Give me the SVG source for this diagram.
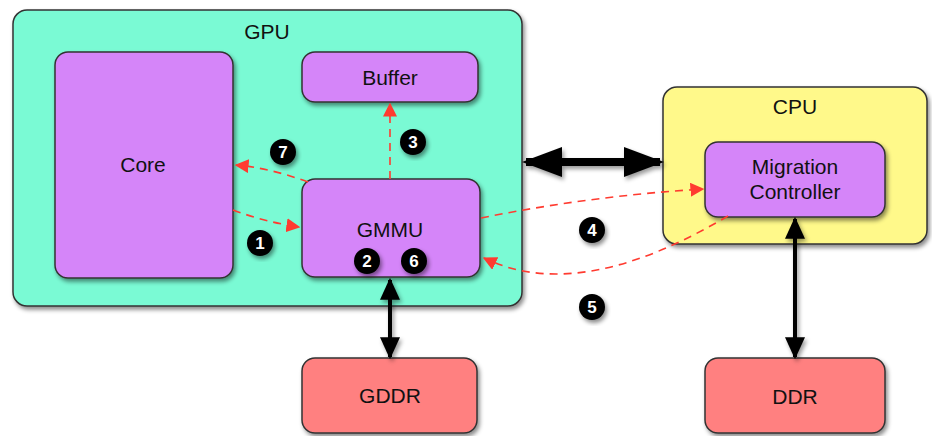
<svg xmlns="http://www.w3.org/2000/svg" width="932" height="436" viewBox="0 0 932 436">
<defs>
<filter id="sh" x="-10%" y="-10%" width="130%" height="130%">
<feDropShadow dx="2" dy="3" stdDeviation="2" flood-color="#000" flood-opacity="0.45"/>
</filter>
<filter id="shu" filterUnits="userSpaceOnUse" x="0" y="0" width="932" height="436">
<feDropShadow dx="2" dy="3" stdDeviation="2" flood-color="#000" flood-opacity="0.4"/>
</filter>
<marker id="ra" viewBox="0 0 10 10" refX="9" refY="5" markerWidth="14" markerHeight="14" markerUnits="userSpaceOnUse" orient="auto">
<path d="M0,0 L10,5 L0,10 z" fill="#ff3b30"/>
</marker>
<marker id="bk" viewBox="0 0 10 10" refX="9" refY="5" markerWidth="22" markerHeight="20" markerUnits="userSpaceOnUse" orient="auto-start-reverse" preserveAspectRatio="none">
<path d="M0,0 L10,5 L0,10 z" fill="#000"/>
</marker>
<marker id="bkL" viewBox="0 0 10 10" refX="9" refY="5" markerWidth="40" markerHeight="30" markerUnits="userSpaceOnUse" orient="auto-start-reverse" preserveAspectRatio="none">
<path d="M0,0 L10,5 L0,10 z" fill="#000"/>
</marker>
</defs>
<style>
.box{stroke:#333;stroke-width:1.5;filter:url(#sh)}
.gpu{fill:#7afad4}
.cpu{fill:#fff98a}
.pur{fill:#d585f9}
.mem{fill:#ff8080}
.lbl{font-family:"Liberation Sans",Arial,sans-serif;font-size:21px;fill:#111;text-anchor:middle}
.red{fill:none;stroke:#ff3b30;stroke-width:1.6;stroke-dasharray:8 6;marker-end:url(#ra)}
.blk{fill:none;stroke:#000;stroke-width:4;marker-start:url(#bk);marker-end:url(#bk);filter:url(#shu)}
.badge circle{fill:#000;filter:url(#sh)}
.badge text{font-family:"Liberation Sans",Arial,sans-serif;font-size:17px;font-weight:bold;fill:#fff;text-anchor:middle}
</style>
<g id="gpu"><rect class="box gpu" x="13" y="10" width="509" height="296" rx="14"/><text class="lbl" x="267" y="39">GPU</text></g>
<g id="cpu"><rect class="box cpu" x="663" y="87" width="264" height="157" rx="14"/><text class="lbl" x="795" y="114">CPU</text></g>
<g id="core"><rect class="box pur" x="55" y="52" width="178" height="226" rx="13"/><text class="lbl" x="143" y="172">Core</text></g>
<g id="buffer"><rect class="box pur" x="302" y="52" width="176" height="50" rx="13"/><text class="lbl" x="390" y="85">Buffer</text></g>
<g id="gmmu"><rect class="box pur" x="302" y="179" width="178" height="98" rx="13"/><text class="lbl" x="390" y="237">GMMU</text></g>
<g id="mc"><rect class="box pur" x="705" y="142" width="180" height="75" rx="13"/><text class="lbl" x="795" y="174">Migration</text><text class="lbl" x="795" y="199">Controller</text></g>
<g id="gddr"><rect class="box mem" x="302" y="358" width="175" height="75" rx="13"/><text class="lbl" x="390" y="403">GDDR</text></g>
<g id="ddr"><rect class="box mem" x="705" y="358" width="180" height="75" rx="13"/><text class="lbl" x="795" y="404">DDR</text></g>
<g id="connectors">
<path class="red" d="M233,210 Q265,222 299,227"/>
<path class="red" d="M308,182 Q270,168 236,165"/>
<path class="red" d="M390,179 L390,104"/>
<path class="red" d="M481,218 Q590,196 703,189"/>
<path class="red" d="M728,216 C670,250 570,300 484,258"/>
<path class="blk" d="M526,162 L660,162" style="stroke-width:8;marker-start:url(#bkL);marker-end:url(#bkL)"/>
<path class="blk" d="M390,280 L390,357"/>
<path class="blk" d="M795,219 L795,357"/>
</g>
<g id="badges">
<g class="badge"><circle cx="260" cy="243" r="13"/><text x="260" y="249">1</text></g>
<g class="badge"><circle cx="367" cy="261" r="13"/><text x="367" y="267">2</text></g>
<g class="badge"><circle cx="413" cy="142" r="13"/><text x="413" y="148">3</text></g>
<g class="badge"><circle cx="592" cy="230" r="13"/><text x="592" y="236">4</text></g>
<g class="badge"><circle cx="592" cy="307" r="13"/><text x="592" y="313">5</text></g>
<g class="badge"><circle cx="414" cy="261" r="13"/><text x="414" y="267">6</text></g>
<g class="badge"><circle cx="283" cy="152" r="13"/><text x="283" y="158">7</text></g>
</g>
</svg>
